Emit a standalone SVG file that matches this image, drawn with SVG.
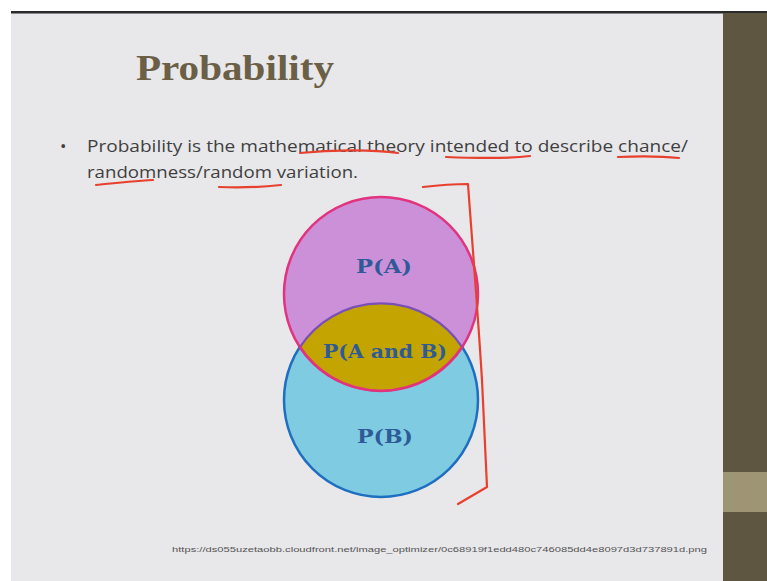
<svg xmlns="http://www.w3.org/2000/svg" width="767" height="581" viewBox="0 0 767 581">
<style>
.body{font-family:"Open Sans","Liberation Sans",sans-serif;font-size:17px;fill:#3f3f3f}
.lbl{font-family:"DejaVu Serif","Liberation Serif",serif;font-weight:bold;font-size:19px;fill:#2f5a98}
.red{fill:none;stroke:#e8402e;stroke-width:2.2;stroke-linecap:round;stroke-linejoin:round}
</style>
<rect width="767" height="581" fill="#ffffff"/>
<rect x="11" y="11" width="756" height="570" fill="#e8e7ea"/>
<rect x="11" y="11" width="756" height="2.5" fill="#2a2a2a"/>
<rect x="723" y="13" width="44" height="568" fill="#5f5641"/>
<rect x="723" y="472" width="44" height="40" fill="#9e9574"/>
<text x="136" y="80" font-family="Liberation Serif,serif" font-weight="bold" font-size="35" fill="#6b5f46" textLength="198" lengthAdjust="spacingAndGlyphs">Probability</text>
<text x="60" y="152" class="body">•</text>
<text x="87" y="152" class="body" textLength="601" lengthAdjust="spacingAndGlyphs">Probability is the mathematical theory intended to describe chance/</text>
<text x="87" y="178" class="body" textLength="271" lengthAdjust="spacingAndGlyphs">randomness/random variation.</text>
<g id="circleB">
<circle cx="381" cy="400" r="97" fill="#7ecbe2" stroke="#1f6fc0" stroke-width="2.5"/>
<text x="385" y="443" class="lbl" text-anchor="middle" textLength="56" lengthAdjust="spacingAndGlyphs">P(B)</text>
</g>
<g id="circleA">
<circle cx="381" cy="294" r="97" fill="#cc90d8" stroke="#e2337f" stroke-width="2.5"/>
<text x="384" y="273" class="lbl" text-anchor="middle" textLength="56" lengthAdjust="spacingAndGlyphs">P(A)</text>
</g>
<g id="intersection">
<path d="M300,347 A97,97 0 0 1 462,347 A97,97 0 0 1 300,347 Z" fill="#c3a400"/>
<path d="M300,347 A97,97 0 0 1 462,347" fill="none" stroke="#7a50b8" stroke-width="2.2"/>
<path d="M462,347 A97,97 0 0 1 300,347" fill="none" stroke="#e2337f" stroke-width="2.5"/>
<text x="385" y="358" class="lbl" text-anchor="middle" textLength="124" lengthAdjust="spacingAndGlyphs">P(A and B)</text>
</g>
<g id="annotations">
<path class="red" d="M300,153 C330,150 370,149 398,153"/>
<path class="red" d="M446,157 C470,158 505,159 530,156"/>
<path class="red" d="M618,157 C640,156 660,156 679,158"/>
<path class="red" d="M96,185 C115,183 135,181 153,180"/>
<path class="red" d="M219,187 C240,188 262,187 281,185"/>
<path class="red" d="M423,187 C440,185 455,184 468,184 C472,240 477,300 482,380 L487,487 L458,504"/>
</g>
<text x="172" y="552" font-family="Liberation Sans,sans-serif" font-size="8" fill="#555" textLength="535" lengthAdjust="spacingAndGlyphs">https://ds055uzetaobb.cloudfront.net/image_optimizer/0c68919f1edd480c746085dd4e8097d3d737891d.png</text>
</svg>
